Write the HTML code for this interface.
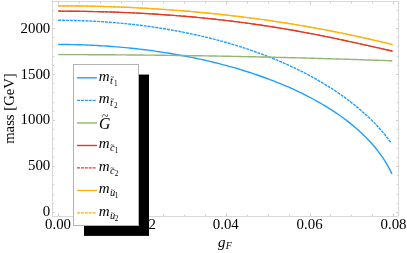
<!DOCTYPE html>
<html><head><meta charset="utf-8"><title>plot</title>
<style>
html,body{margin:0;padding:0;background:#fff;}
body{width:407px;height:253px;position:relative;overflow:hidden;font-family:"Liberation Serif",serif;}
.t{position:absolute;font-family:"Liberation Serif",serif;font-size:15px;line-height:17px;color:#000;white-space:nowrap;}
i{font-style:italic}
</style></head><body>
<svg width="407" height="253" viewBox="0 0 407 253" style="position:absolute;left:0;top:0"><path d="M58.20,44.46 L61.01,44.46 L63.81,44.48 L66.62,44.50 L69.42,44.54 L72.23,44.59 L75.03,44.65 L77.84,44.72 L80.64,44.80 L83.45,44.90 L86.25,45.00 L89.06,45.12 L91.86,45.24 L94.67,45.38 L97.47,45.53 L100.28,45.69 L103.08,45.86 L105.89,46.04 L108.69,46.24 L111.50,46.44 L114.30,46.66 L117.11,46.89 L119.91,47.13 L122.72,47.38 L125.52,47.64 L128.33,47.92 L131.13,48.20 L133.94,48.50 L136.74,48.81 L139.55,49.13 L142.35,49.47 L145.16,49.81 L147.96,50.17 L150.77,50.54 L153.57,50.93 L156.38,51.32 L159.18,51.73 L161.99,52.15 L164.79,52.58 L167.60,53.03 L170.40,53.49 L173.21,53.96 L176.01,54.44 L178.82,54.94 L181.62,55.45 L184.43,55.98 L187.23,56.52 L190.04,57.07 L192.84,57.64 L195.65,58.22 L198.45,58.81 L201.26,59.42 L204.06,60.05 L206.87,60.69 L209.67,61.34 L212.48,62.01 L215.28,62.70 L218.09,63.40 L220.89,64.11 L223.70,64.85 L226.50,65.60 L229.31,66.36 L232.11,67.15 L234.92,67.95 L237.72,68.77 L240.53,69.60 L243.33,70.46 L246.14,71.33 L248.94,72.22 L251.75,73.13 L254.55,74.07 L257.36,75.02 L260.16,75.99 L262.97,76.98 L265.77,78.00 L268.58,79.04 L271.38,80.10 L274.19,81.18 L276.99,82.29 L279.80,83.42 L282.60,84.58 L285.41,85.77 L288.21,86.98 L291.02,88.22 L293.82,89.48 L296.63,90.78 L299.43,92.11 L302.24,93.47 L305.04,94.86 L307.85,96.29 L310.65,97.75 L313.46,99.25 L316.26,100.79 L319.07,102.37 L321.87,103.99 L324.68,105.65 L327.48,107.37 L330.29,109.13 L333.09,110.94 L335.90,112.80 L338.70,114.73 L341.51,116.71 L344.31,118.76 L347.12,120.88 L349.92,123.08 L352.73,125.35 L355.53,127.71 L358.34,130.17 L361.14,132.74 L363.95,135.41 L366.75,138.22 L369.56,141.17 L372.36,144.27 L375.17,147.57 L377.97,151.08 L380.78,154.84 L383.58,158.92 L386.39,163.38 L389.19,168.35 L392.00,174.02" fill="none" stroke="#209ffc" stroke-width="1.4"/><path d="M58.20,20.30 L61.00,20.31 L63.80,20.32 L66.60,20.35 L69.40,20.39 L72.20,20.44 L74.99,20.50 L77.79,20.58 L80.59,20.66 L83.39,20.76 L86.19,20.87 L88.99,20.99 L91.79,21.12 L94.59,21.27 L97.39,21.42 L100.19,21.59 L102.99,21.77 L105.79,21.96 L108.58,22.16 L111.38,22.38 L114.18,22.60 L116.98,22.84 L119.78,23.09 L122.58,23.36 L125.38,23.63 L128.18,23.92 L130.98,24.22 L133.78,24.53 L136.58,24.86 L139.38,25.19 L142.17,25.54 L144.97,25.91 L147.77,26.28 L150.57,26.67 L153.37,27.07 L156.17,27.49 L158.97,27.91 L161.77,28.35 L164.57,28.81 L167.37,29.28 L170.17,29.76 L172.97,30.25 L175.76,30.76 L178.56,31.29 L181.36,31.82 L184.16,32.38 L186.96,32.94 L189.76,33.52 L192.56,34.12 L195.36,34.73 L198.16,35.35 L200.96,36.00 L203.76,36.65 L206.56,37.32 L209.35,38.01 L212.15,38.72 L214.95,39.44 L217.75,40.17 L220.55,40.93 L223.35,41.70 L226.15,42.49 L228.95,43.29 L231.75,44.11 L234.55,44.95 L237.35,45.81 L240.15,46.69 L242.94,47.59 L245.74,48.50 L248.54,49.44 L251.34,50.39 L254.14,51.37 L256.94,52.37 L259.74,53.38 L262.54,54.42 L265.34,55.48 L268.14,56.56 L270.94,57.67 L273.74,58.80 L276.53,59.95 L279.33,61.13 L282.13,62.33 L284.93,63.56 L287.73,64.81 L290.53,66.09 L293.33,67.40 L296.13,68.73 L298.93,70.10 L301.73,71.49 L304.53,72.92 L307.33,74.38 L310.12,75.87 L312.92,77.39 L315.72,78.95 L318.52,80.54 L321.32,82.17 L324.12,83.84 L326.92,85.56 L329.72,87.31 L332.52,89.10 L335.32,90.94 L338.12,92.83 L340.92,94.77 L343.71,96.76 L346.51,98.81 L349.31,100.91 L352.11,103.08 L354.91,105.31 L357.71,107.60 L360.51,109.97 L363.31,112.42 L366.11,114.96 L368.91,117.58 L371.71,120.30 L374.51,123.13 L377.30,126.08 L380.10,129.16 L382.90,132.38 L385.70,135.77 L388.50,139.34 L391.30,143.12" fill="none" stroke="#209ffc" stroke-width="1.4" stroke-dasharray="3.0 0.9"/><path d="M58.20,54.61 L61.01,54.61 L63.82,54.62 L66.62,54.62 L69.43,54.63 L72.24,54.63 L75.05,54.64 L77.85,54.65 L80.66,54.66 L83.47,54.66 L86.28,54.67 L89.08,54.69 L91.89,54.70 L94.70,54.71 L97.51,54.72 L100.31,54.74 L103.12,54.75 L105.93,54.77 L108.74,54.79 L111.54,54.80 L114.35,54.82 L117.16,54.84 L119.97,54.86 L122.77,54.88 L125.58,54.90 L128.39,54.93 L131.20,54.95 L134.00,54.97 L136.81,55.00 L139.62,55.03 L142.43,55.05 L145.23,55.08 L148.04,55.11 L150.85,55.14 L153.66,55.17 L156.46,55.20 L159.27,55.23 L162.08,55.26 L164.89,55.30 L167.69,55.33 L170.50,55.37 L173.31,55.40 L176.12,55.44 L178.93,55.48 L181.73,55.52 L184.54,55.56 L187.35,55.60 L190.16,55.64 L192.96,55.68 L195.77,55.72 L198.58,55.77 L201.39,55.81 L204.19,55.86 L207.00,55.90 L209.81,55.95 L212.62,56.00 L215.42,56.05 L218.23,56.10 L221.04,56.15 L223.85,56.20 L226.65,56.25 L229.46,56.30 L232.27,56.36 L235.08,56.41 L237.88,56.47 L240.69,56.53 L243.50,56.58 L246.31,56.64 L249.11,56.70 L251.92,56.76 L254.73,56.82 L257.54,56.88 L260.34,56.94 L263.15,57.01 L265.96,57.07 L268.77,57.14 L271.57,57.20 L274.38,57.27 L277.19,57.34 L280.00,57.40 L282.81,57.47 L285.61,57.54 L288.42,57.61 L291.23,57.68 L294.04,57.76 L296.84,57.83 L299.65,57.90 L302.46,57.98 L305.27,58.06 L308.07,58.13 L310.88,58.21 L313.69,58.29 L316.50,58.37 L319.30,58.45 L322.11,58.53 L324.92,58.61 L327.73,58.69 L330.53,58.78 L333.34,58.86 L336.15,58.95 L338.96,59.03 L341.76,59.12 L344.57,59.21 L347.38,59.29 L350.19,59.38 L352.99,59.47 L355.80,59.56 L358.61,59.66 L361.42,59.75 L364.22,59.84 L367.03,59.94 L369.84,60.03 L372.65,60.13 L375.45,60.22 L378.26,60.32 L381.07,60.42 L383.88,60.52 L386.68,60.62 L389.49,60.72 L392.30,60.82" fill="none" stroke="#96b472" stroke-width="1.4"/><path d="M58.20,11.17 L61.01,11.17 L63.82,11.18 L66.63,11.19 L69.44,11.21 L72.25,11.23 L75.06,11.25 L77.86,11.28 L80.67,11.32 L83.48,11.36 L86.29,11.41 L89.10,11.46 L91.91,11.51 L94.72,11.57 L97.53,11.64 L100.34,11.71 L103.15,11.79 L105.96,11.87 L108.77,11.95 L111.58,12.04 L114.38,12.14 L117.19,12.24 L120.00,12.35 L122.81,12.46 L125.62,12.57 L128.43,12.70 L131.24,12.82 L134.05,12.95 L136.86,13.09 L139.67,13.24 L142.48,13.38 L145.29,13.54 L148.10,13.70 L150.91,13.86 L153.71,14.03 L156.52,14.21 L159.33,14.39 L162.14,14.58 L164.95,14.77 L167.76,14.97 L170.57,15.17 L173.38,15.38 L176.19,15.60 L179.00,15.82 L181.81,16.05 L184.62,16.29 L187.43,16.53 L190.23,16.77 L193.04,17.03 L195.85,17.29 L198.66,17.55 L201.47,17.82 L204.28,18.10 L207.09,18.38 L209.90,18.67 L212.71,18.97 L215.52,19.28 L218.33,19.59 L221.14,19.90 L223.95,20.23 L226.75,20.56 L229.56,20.89 L232.37,21.24 L235.18,21.59 L237.99,21.94 L240.80,22.31 L243.61,22.68 L246.42,23.05 L249.23,23.44 L252.04,23.83 L254.85,24.23 L257.66,24.63 L260.47,25.04 L263.27,25.46 L266.08,25.89 L268.89,26.32 L271.70,26.76 L274.51,27.21 L277.32,27.66 L280.13,28.12 L282.94,28.59 L285.75,29.06 L288.56,29.54 L291.37,30.03 L294.18,30.52 L296.99,31.02 L299.79,31.53 L302.60,32.04 L305.41,32.57 L308.22,33.09 L311.03,33.63 L313.84,34.17 L316.65,34.71 L319.46,35.26 L322.27,35.82 L325.08,36.38 L327.89,36.95 L330.70,37.53 L333.51,38.11 L336.32,38.69 L339.12,39.29 L341.93,39.88 L344.74,40.48 L347.55,41.09 L350.36,41.70 L353.17,42.31 L355.98,42.93 L358.79,43.55 L361.60,44.17 L364.41,44.80 L367.22,45.43 L370.03,46.06 L372.84,46.69 L375.64,47.33 L378.45,47.96 L381.26,48.60 L384.07,49.24 L386.88,49.88 L389.69,50.51 L392.50,51.15" fill="none" stroke="#e23a24" stroke-width="1.35"/><path d="M58.20,11.17 L61.01,11.17 L63.82,11.18 L66.63,11.19 L69.44,11.21 L72.25,11.23 L75.06,11.25 L77.86,11.28 L80.67,11.32 L83.48,11.36 L86.29,11.41 L89.10,11.46 L91.91,11.51 L94.72,11.57 L97.53,11.64 L100.34,11.71 L103.15,11.79 L105.96,11.87 L108.77,11.95 L111.58,12.04 L114.38,12.14 L117.19,12.24 L120.00,12.35 L122.81,12.46 L125.62,12.57 L128.43,12.70 L131.24,12.82 L134.05,12.95 L136.86,13.09 L139.67,13.24 L142.48,13.38 L145.29,13.54 L148.10,13.70 L150.91,13.86 L153.71,14.03 L156.52,14.21 L159.33,14.39 L162.14,14.58 L164.95,14.77 L167.76,14.97 L170.57,15.17 L173.38,15.38 L176.19,15.60 L179.00,15.82 L181.81,16.05 L184.62,16.29 L187.43,16.53 L190.23,16.77 L193.04,17.03 L195.85,17.29 L198.66,17.55 L201.47,17.82 L204.28,18.10 L207.09,18.38 L209.90,18.67 L212.71,18.97 L215.52,19.28 L218.33,19.59 L221.14,19.90 L223.95,20.23 L226.75,20.56 L229.56,20.89 L232.37,21.24 L235.18,21.59 L237.99,21.94 L240.80,22.31 L243.61,22.68 L246.42,23.05 L249.23,23.44 L252.04,23.83 L254.85,24.23 L257.66,24.63 L260.47,25.04 L263.27,25.46 L266.08,25.89 L268.89,26.32 L271.70,26.76 L274.51,27.21 L277.32,27.66 L280.13,28.12 L282.94,28.59 L285.75,29.06 L288.56,29.54 L291.37,30.03 L294.18,30.52 L296.99,31.02 L299.79,31.53 L302.60,32.04 L305.41,32.57 L308.22,33.09 L311.03,33.63 L313.84,34.17 L316.65,34.71 L319.46,35.26 L322.27,35.82 L325.08,36.38 L327.89,36.95 L330.70,37.53 L333.51,38.11 L336.32,38.69 L339.12,39.29 L341.93,39.88 L344.74,40.48 L347.55,41.09 L350.36,41.70 L353.17,42.31 L355.98,42.93 L358.79,43.55 L361.60,44.17 L364.41,44.80 L367.22,45.43 L370.03,46.06 L372.84,46.69 L375.64,47.33 L378.45,47.96 L381.26,48.60 L384.07,49.24 L386.88,49.88 L389.69,50.51 L392.50,51.15" fill="none" stroke="#e23a24" stroke-width="1.1" stroke-dasharray="3.0 0.9"/><path d="M58.20,5.85 L61.01,5.86 L63.82,5.86 L66.63,5.88 L69.44,5.89 L72.25,5.92 L75.06,5.94 L77.86,5.97 L80.67,6.01 L83.48,6.05 L86.29,6.10 L89.10,6.15 L91.91,6.21 L94.72,6.27 L97.53,6.34 L100.34,6.41 L103.15,6.49 L105.96,6.57 L108.77,6.66 L111.58,6.75 L114.38,6.85 L117.19,6.95 L120.00,7.06 L122.81,7.17 L125.62,7.29 L128.43,7.42 L131.24,7.54 L134.05,7.68 L136.86,7.82 L139.67,7.96 L142.48,8.11 L145.29,8.26 L148.10,8.42 L150.91,8.59 L153.71,8.76 L156.52,8.93 L159.33,9.11 L162.14,9.30 L164.95,9.49 L167.76,9.69 L170.57,9.89 L173.38,10.10 L176.19,10.31 L179.00,10.53 L181.81,10.75 L184.62,10.98 L187.43,11.21 L190.23,11.45 L193.04,11.70 L195.85,11.95 L198.66,12.21 L201.47,12.47 L204.28,12.74 L207.09,13.01 L209.90,13.29 L212.71,13.57 L215.52,13.86 L218.33,14.16 L221.14,14.46 L223.95,14.77 L226.75,15.08 L229.56,15.40 L232.37,15.72 L235.18,16.05 L237.99,16.39 L240.80,16.73 L243.61,17.08 L246.42,17.44 L249.23,17.80 L252.04,18.16 L254.85,18.53 L257.66,18.91 L260.47,19.30 L263.27,19.69 L266.08,20.08 L268.89,20.48 L271.70,20.89 L274.51,21.31 L277.32,21.73 L280.13,22.16 L282.94,22.59 L285.75,23.03 L288.56,23.48 L291.37,23.93 L294.18,24.39 L296.99,24.85 L299.79,25.32 L302.60,25.80 L305.41,26.28 L308.22,26.78 L311.03,27.27 L313.84,27.78 L316.65,28.29 L319.46,28.80 L322.27,29.33 L325.08,29.86 L327.89,30.39 L330.70,30.94 L333.51,31.49 L336.32,32.04 L339.12,32.61 L341.93,33.18 L344.74,33.75 L347.55,34.33 L350.36,34.92 L353.17,35.52 L355.98,36.12 L358.79,36.73 L361.60,37.35 L364.41,37.98 L367.22,38.61 L370.03,39.24 L372.84,39.89 L375.64,40.54 L378.45,41.20 L381.26,41.86 L384.07,42.53 L386.88,43.21 L389.69,43.89 L392.50,44.59" fill="none" stroke="#ffb30a" stroke-width="1.35"/><path d="M58.20,5.85 L61.01,5.86 L63.82,5.86 L66.63,5.88 L69.44,5.89 L72.25,5.92 L75.06,5.94 L77.86,5.97 L80.67,6.01 L83.48,6.05 L86.29,6.10 L89.10,6.15 L91.91,6.21 L94.72,6.27 L97.53,6.34 L100.34,6.41 L103.15,6.49 L105.96,6.57 L108.77,6.66 L111.58,6.75 L114.38,6.85 L117.19,6.95 L120.00,7.06 L122.81,7.17 L125.62,7.29 L128.43,7.42 L131.24,7.54 L134.05,7.68 L136.86,7.82 L139.67,7.96 L142.48,8.11 L145.29,8.26 L148.10,8.42 L150.91,8.59 L153.71,8.76 L156.52,8.93 L159.33,9.11 L162.14,9.30 L164.95,9.49 L167.76,9.69 L170.57,9.89 L173.38,10.10 L176.19,10.31 L179.00,10.53 L181.81,10.75 L184.62,10.98 L187.43,11.21 L190.23,11.45 L193.04,11.70 L195.85,11.95 L198.66,12.21 L201.47,12.47 L204.28,12.74 L207.09,13.01 L209.90,13.29 L212.71,13.57 L215.52,13.86 L218.33,14.16 L221.14,14.46 L223.95,14.77 L226.75,15.08 L229.56,15.40 L232.37,15.72 L235.18,16.05 L237.99,16.39 L240.80,16.73 L243.61,17.08 L246.42,17.44 L249.23,17.80 L252.04,18.16 L254.85,18.53 L257.66,18.91 L260.47,19.30 L263.27,19.69 L266.08,20.08 L268.89,20.48 L271.70,20.89 L274.51,21.31 L277.32,21.73 L280.13,22.16 L282.94,22.59 L285.75,23.03 L288.56,23.48 L291.37,23.93 L294.18,24.39 L296.99,24.85 L299.79,25.32 L302.60,25.80 L305.41,26.28 L308.22,26.78 L311.03,27.27 L313.84,27.78 L316.65,28.29 L319.46,28.80 L322.27,29.33 L325.08,29.86 L327.89,30.39 L330.70,30.94 L333.51,31.49 L336.32,32.04 L339.12,32.61 L341.93,33.18 L344.74,33.75 L347.55,34.33 L350.36,34.92 L353.17,35.52 L355.98,36.12 L358.79,36.73 L361.60,37.35 L364.41,37.98 L367.22,38.61 L370.03,39.24 L372.84,39.89 L375.64,40.54 L378.45,41.20 L381.26,41.86 L384.07,42.53 L386.88,43.21 L389.69,43.89 L392.50,44.59" fill="none" stroke="#ffb30a" stroke-width="1.1" stroke-dasharray="3.0 0.9"/><g stroke="#b2b2b2" stroke-width="0.5" fill="none"><rect x="52.5" y="1.5" width="346.0" height="215.0"/></g><g stroke="#a6a6a6" stroke-width="0.55" fill="none"><path d="M58.5,216.0 v-2.5 M58.5,2.0 v2.5"/><path d="M79.5,216.0 v-1.5 M79.5,2.0 v1.5"/><path d="M100.5,216.0 v-1.5 M100.5,2.0 v1.5"/><path d="M121.5,216.0 v-1.5 M121.5,2.0 v1.5"/><path d="M142.5,216.0 v-2.5 M142.5,2.0 v2.5"/><path d="M163.5,216.0 v-1.5 M163.5,2.0 v1.5"/><path d="M184.5,216.0 v-1.5 M184.5,2.0 v1.5"/><path d="M205.5,216.0 v-1.5 M205.5,2.0 v1.5"/><path d="M226.5,216.0 v-2.5 M226.5,2.0 v2.5"/><path d="M247.5,216.0 v-1.5 M247.5,2.0 v1.5"/><path d="M268.5,216.0 v-1.5 M268.5,2.0 v1.5"/><path d="M289.5,216.0 v-1.5 M289.5,2.0 v1.5"/><path d="M310.5,216.0 v-2.5 M310.5,2.0 v2.5"/><path d="M330.5,216.0 v-1.5 M330.5,2.0 v1.5"/><path d="M351.5,216.0 v-1.5 M351.5,2.0 v1.5"/><path d="M372.5,216.0 v-1.5 M372.5,2.0 v1.5"/><path d="M393.5,216.0 v-2.5 M393.5,2.0 v2.5"/><path d="M53.0,212.5 h1.9 M398.0,212.5 h-1.9"/><path d="M53.0,203.5 h1.1 M398.0,203.5 h-1.1"/><path d="M53.0,194.5 h1.1 M398.0,194.5 h-1.1"/><path d="M53.0,184.5 h1.1 M398.0,184.5 h-1.1"/><path d="M53.0,175.5 h1.1 M398.0,175.5 h-1.1"/><path d="M53.0,166.5 h1.9 M398.0,166.5 h-1.9"/><path d="M53.0,157.5 h1.1 M398.0,157.5 h-1.1"/><path d="M53.0,148.5 h1.1 M398.0,148.5 h-1.1"/><path d="M53.0,138.5 h1.1 M398.0,138.5 h-1.1"/><path d="M53.0,129.5 h1.1 M398.0,129.5 h-1.1"/><path d="M53.0,120.5 h1.9 M398.0,120.5 h-1.9"/><path d="M53.0,111.5 h1.1 M398.0,111.5 h-1.1"/><path d="M53.0,102.5 h1.1 M398.0,102.5 h-1.1"/><path d="M53.0,92.5 h1.1 M398.0,92.5 h-1.1"/><path d="M53.0,83.5 h1.1 M398.0,83.5 h-1.1"/><path d="M53.0,74.5 h1.9 M398.0,74.5 h-1.9"/><path d="M53.0,65.5 h1.1 M398.0,65.5 h-1.1"/><path d="M53.0,56.5 h1.1 M398.0,56.5 h-1.1"/><path d="M53.0,46.5 h1.1 M398.0,46.5 h-1.1"/><path d="M53.0,37.5 h1.1 M398.0,37.5 h-1.1"/><path d="M53.0,28.5 h1.9 M398.0,28.5 h-1.9"/><path d="M53.0,19.5 h1.1 M398.0,19.5 h-1.1"/><path d="M53.0,10.5 h1.1 M398.0,10.5 h-1.1"/></g><rect x="84.0" y="74.55" width="65.00" height="161.35" fill="#000"/><rect x="73.5" y="64.5" width="65.00" height="161.00" fill="#fff" stroke="#b2b2b2" stroke-width="1"/><path d="M77.0,77.85 H97.0" stroke="#209ffc" stroke-width="1.4" fill="none"/><path d="M77.0,100.4 H96.4" stroke="#209ffc" stroke-width="1.4" fill="none" stroke-dasharray="3.0 0.9"/><path d="M77.0,122.95 H97.0" stroke="#96b472" stroke-width="1.4" fill="none"/><path d="M77.0,145.5 H97.0" stroke="#e23a24" stroke-width="1.4" fill="none"/><path d="M77.0,167.9 H96.4" stroke="#e23a24" stroke-width="1.4" fill="none" stroke-dasharray="3.0 0.9"/><path d="M77.0,190.5 H97.0" stroke="#ffb30a" stroke-width="1.4" fill="none"/><path d="M77.0,212.85 H96.4" stroke="#ffb30a" stroke-width="1.4" fill="none" stroke-dasharray="3.0 0.9"/></svg>
<svg width="407" height="253" viewBox="0 0 407 253" style="position:absolute;left:0;top:0;will-change:transform;filter:grayscale(1)" font-family="Liberation Serif, serif" fill="#000"><text transform="translate(50.30,216.00) scale(0.96,1)" font-size="15.5" text-anchor="end">0</text><text transform="translate(50.30,170.00) scale(0.96,1)" font-size="15.5" text-anchor="end">500</text><text transform="translate(50.30,124.00) scale(0.96,1)" font-size="15.5" text-anchor="end">1000</text><text transform="translate(50.30,79.00) scale(0.96,1)" font-size="15.5" text-anchor="end">1500</text><text transform="translate(50.30,33.00) scale(0.96,1)" font-size="15.5" text-anchor="end">2000</text><defs><clipPath id="c02"><rect x="149.1" y="200" width="30" height="40"/></clipPath></defs><text transform="translate(58.00,228.70) scale(0.96,1)" font-size="15.5" text-anchor="middle">0.00</text><g clip-path="url(#c02)"><text transform="translate(142.88,228.70) scale(0.96,1)" font-size="15.5" text-anchor="middle">0.02</text></g><text transform="translate(225.75,228.70) scale(0.96,1)" font-size="15.5" text-anchor="middle">0.04</text><text transform="translate(309.62,228.70) scale(0.96,1)" font-size="15.5" text-anchor="middle">0.06</text><text transform="translate(393.50,228.70) scale(0.96,1)" font-size="15.5" text-anchor="middle">0.08</text><text x="217.90" y="247.00" font-size="15" text-anchor="start" font-style="italic">g</text><text x="225.80" y="248.70" font-size="10" text-anchor="start" font-style="italic">F</text><text transform="translate(13.9,143.8) rotate(-90)" font-size="14.7">mass [GeV]</text><text x="98.80" y="81.00" font-size="15" text-anchor="start" font-style="italic">m</text><text x="109.90" y="84.00" font-size="10.5" text-anchor="start" font-style="italic">t</text><text x="110.40" y="78.70" font-size="7" text-anchor="start">~</text><text x="114.10" y="86.00" font-size="7.2" text-anchor="start">1</text><text x="98.80" y="103.00" font-size="15" text-anchor="start" font-style="italic">m</text><text x="109.90" y="106.00" font-size="10.5" text-anchor="start" font-style="italic">t</text><text x="110.40" y="100.70" font-size="7" text-anchor="start">~</text><text x="114.10" y="108.00" font-size="7.2" text-anchor="start">2</text><text x="99.00" y="129.00" font-size="15.8" text-anchor="start" font-style="italic">G</text><text x="101.90" y="120.20" font-size="12" text-anchor="start">~</text><text x="98.80" y="148.00" font-size="15" text-anchor="start" font-style="italic">m</text><text x="109.90" y="151.00" font-size="10.5" text-anchor="start" font-style="italic">c</text><text x="110.50" y="146.50" font-size="7" text-anchor="start">~</text><text x="114.70" y="153.00" font-size="7.2" text-anchor="start">1</text><text x="98.80" y="171.00" font-size="15" text-anchor="start" font-style="italic">m</text><text x="109.90" y="174.00" font-size="10.5" text-anchor="start" font-style="italic">c</text><text x="110.50" y="169.50" font-size="7" text-anchor="start">~</text><text x="114.70" y="176.00" font-size="7.2" text-anchor="start">2</text><text x="98.80" y="193.00" font-size="15" text-anchor="start" font-style="italic">m</text><text x="109.90" y="196.00" font-size="10.5" text-anchor="start" font-style="italic">u</text><text x="110.70" y="191.60" font-size="7" text-anchor="start">~</text><text x="114.80" y="198.00" font-size="7.2" text-anchor="start">1</text><text x="98.80" y="216.00" font-size="15" text-anchor="start" font-style="italic">m</text><text x="109.90" y="219.00" font-size="10.5" text-anchor="start" font-style="italic">u</text><text x="110.70" y="214.60" font-size="7" text-anchor="start">~</text><text x="114.80" y="221.00" font-size="7.2" text-anchor="start">2</text></svg>
</body></html>
